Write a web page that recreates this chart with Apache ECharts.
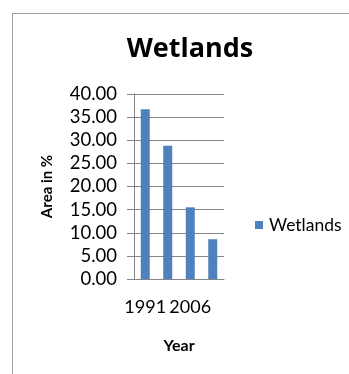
<!DOCTYPE html>
<html>
<head>
<meta charset="utf-8">
<script src="https://cdn.jsdelivr.net/npm/echarts@6/dist/echarts.min.js"></script>
<style>
  html, body { margin: 0; padding: 0; background: #fff; }
  #wrap { position: relative; width: 349px; height: 374px; overflow: hidden; }
  #chart { position: absolute; left: 0; top: 0; width: 349px; height: 374px; }
  #frame { position: absolute; left: 12px; top: 13px; width: 400px; height: 400px;
           border-left: 1px solid #a0a0a0; border-top: 1px solid #a0a0a0; pointer-events: none; }
</style>
</head>
<body>
<div id="wrap">
  <div id="chart"></div>
  <div id="frame"></div>
</div>
<script>
// Wetland area share by survey year
const years = ['1991', '2001', '2006', '2011'];
const wetlands = [36.7, 28.8, 15.5, 8.6];
const yTicks = { min: 0, max: 40, step: 5 };

const FONT = 'Lato, "Open Sans", sans-serif';
const chart = echarts.init(document.getElementById('chart'), null, { renderer: 'canvas' });

chart.setOption({
  animation: false,
  backgroundColor: '#ffffff',
  title: {
    text: 'Wetlands',
    left: 185,
    textAlign: 'center',
    top: 31,
    textStyle: { fontFamily: '"Open Sans", sans-serif', fontWeight: 'bold', fontSize: 27, color: '#000' }
  },
  legend: {
    data: ['Wetlands'],
    left: 255,
    top: 216,
    padding: 0,
    itemWidth: 8,
    itemHeight: 8,
    itemGap: 5,
    icon: 'rect',
    textStyle: { fontFamily: FONT, fontSize: 17.5, color: '#000', padding: [0, 0, 0, 1] }
  },
  grid: { left: 134, right: 125, top: 94, bottom: 95, containLabel: false },
  xAxis: {
    type: 'category',
    data: years,
    name: 'Year',
    nameLocation: 'middle',
    nameGap: 59,
    nameTextStyle: { fontFamily: FONT, fontWeight: 'bold', fontSize: 16, color: '#000' },
    axisLine: { show: true, lineStyle: { color: '#868686', width: 1 } },
    axisTick: { show: false },
    axisLabel: { interval: 1, margin: 19, fontFamily: FONT, fontSize: 18, color: '#000' }
  },
  yAxis: {
    type: 'value',
    min: yTicks.min,
    max: yTicks.max,
    interval: yTicks.step,
    name: 'Area in %',
    nameLocation: 'middle',
    nameGap: 79,
    nameTextStyle: { fontFamily: FONT, fontWeight: 'bold', fontSize: 15, color: '#000' },
    axisLine: { show: true, lineStyle: { color: '#868686', width: 1 } },
    axisTick: { show: true, inside: false, length: 7, lineStyle: { color: '#868686' } },
    splitLine: { show: true, lineStyle: { color: '#868686', width: 1 } },
    axisLabel: {
      margin: 17,
      fontFamily: FONT,
      fontSize: 18.5,
      color: '#000',
      formatter: v => v.toFixed(2)
    }
  },
  series: [{
    name: 'Wetlands',
    type: 'bar',
    data: wetlands,
    barCategoryGap: '60%',
    itemStyle: { color: '#4f81bd' }
  }]
});
</script>
</body>
</html>
